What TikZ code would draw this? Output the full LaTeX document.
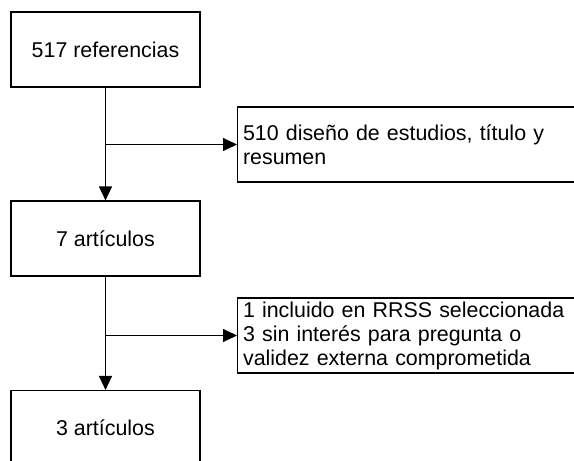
\documentclass[tikz,border=0pt]{standalone}
\usepackage{fontspec}
\setmainfont{Liberation Sans}
\usetikzlibrary{arrows.meta}
\tikzset{
  box/.style={draw=black, line width=1.1pt, minimum width=189pt, minimum height=75pt, inner sep=0pt,
    font=\fontsize{21.4pt}{24pt}\selectfont},
  sidebox/.style={draw=black, line width=1.1pt, anchor=west, minimum width=360pt, minimum height=75pt,
    inner xsep=5.5pt, inner ysep=0pt, text width=349pt, align=left,
    font=\fontsize{21.4pt}{24pt}\selectfont},
  arr/.style={line width=1.1pt, -{Triangle[length=14pt,width=13pt]}}
}
\begin{document}
\begin{tikzpicture}[x=1pt,y=-1pt]
\useasboundingbox (0,0) rectangle (574,461);
\clip (0,0) rectangle (574,461);
\node[box] (b1) at (105.5,49.5) {517 referencias};
\node[sidebox] (b2) at (237,144.5) {510 diseño de estudios, título y\\resumen};
\node[box] (b3) at (105.5,238.5) {7 artículos};
\node[sidebox] (b4) at (237,335.5) {1 incluido en RRSS seleccionada\\3 sin interés para pregunta o\\validez externa comprometida};
\node[box] (b5) at (105.5,428) {3 artículos};
\draw[arr] (b1.south) -- (b3.north);
\draw[arr] (b1.south |- b2.west) -- (b2.west);
\draw[arr] (b3.south) -- (b5.north);
\draw[arr] (b3.south |- b4.west) -- (b4.west);
\end{tikzpicture}
\end{document}
